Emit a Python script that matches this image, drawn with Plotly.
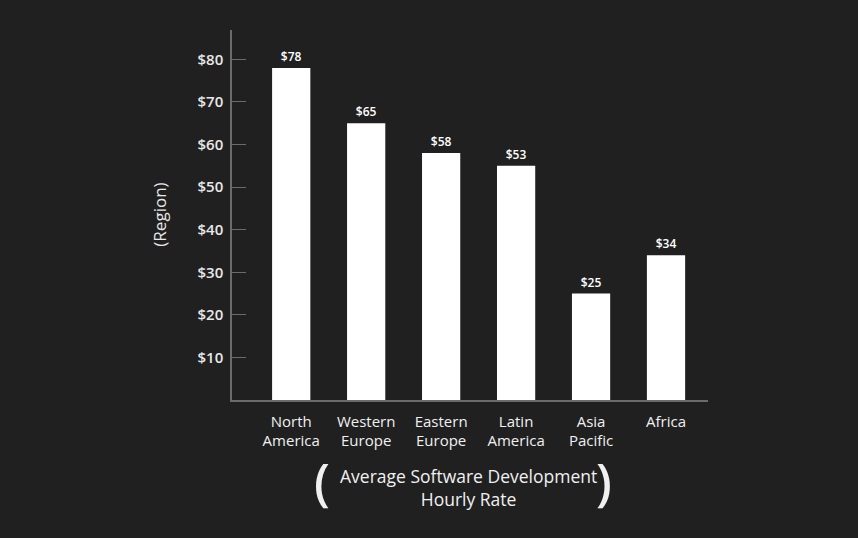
import plotly.graph_objects as go

regions = ["North<br>America", "Western<br>Europe", "Eastern<br>Europe", "Latin<br>America", "Asia<br>Pacific", "Africa"]
rates = [78, 65, 58, 55, 25, 34]
rate_labels = ["$78", "$65", "$58", "$53", "$25", "$34"]
tick_values = [10, 20, 30, 40, 50, 60, 70, 80]
tick_labels = ["$10", "$20", "$30", "$40", "$50", "$60", "$70", "$80"]
title_lines = ["Average Software Development", "Hourly Rate"]

FONT = "Open Sans"
BG = "#202020"
AXIS = "#6b6b6b"

fig = go.Figure(go.Bar(
    x=list(range(len(regions))),
    y=rates,
    width=0.51,
    marker=dict(color="#ffffff", line=dict(width=0)),
    text=rate_labels,
    textposition="outside",
    cliponaxis=False,
    textfont=dict(family=FONT, size=12, color="#ffffff", weight=600),
))

annotations = [
    dict(text="(Region)", textangle=-90, xref="paper", yref="paper",
         x=-0.152, xanchor="center", y=0.5, showarrow=False, xshift=-1,
         font=dict(family=FONT, size=17, color="#e8e8e8", weight=500)),
    dict(text="(", xref="paper", yref="paper", x=0.185, y=-0.2365, yanchor="middle",
         showarrow=False, xshift=-8, yshift=7,
         font=dict(family=FONT, size=50, color="#f0f0f0", weight=600)),
    dict(text=")", xref="paper", yref="paper", x=0.792, y=-0.2365, yanchor="middle",
         showarrow=False, xshift=5, yshift=7,
         font=dict(family=FONT, size=50, color="#f0f0f0", weight=600)),
    dict(text="<br>".join(title_lines), xref="paper", yref="paper", x=0.497, y=-0.2365,
         yanchor="middle", showarrow=False,
         font=dict(family=FONT, size=17.5, color="#f0f0f0", weight=500)),
]

fig.update_layout(
    width=858, height=538,
    paper_bgcolor=BG, plot_bgcolor=BG,
    margin=dict(l=232, r=150, t=30, b=138),
    showlegend=False,
    xaxis=dict(
        range=[-0.79, 5.56],
        tickmode="array", tickvals=list(range(len(regions))), ticktext=regions,
        showline=True, linecolor=AXIS, linewidth=1.5,
        showgrid=False, zeroline=False, ticks="",
        tickfont=dict(family=FONT, size=15, color="#f0f0f0", weight=500),
        ticklabelstandoff=7,
    ),
    yaxis=dict(
        range=[0, 86.9],
        tickmode="array", tickvals=tick_values, ticktext=tick_labels,
        showline=True, linecolor=AXIS, linewidth=1.5,
        showgrid=False, zeroline=False,
        ticks="inside", ticklen=14, tickcolor=AXIS, tickwidth=1,
        tickfont=dict(family=FONT, size=15, color="#e8e8e8", weight=600),
        ticklabelstandoff=4,
    ),
    annotations=annotations,
)

fig.write_html("out.html", config={"displayModeBar": False},
               post_script="document.body.style.margin='0';document.body.style.background='#202020';")
